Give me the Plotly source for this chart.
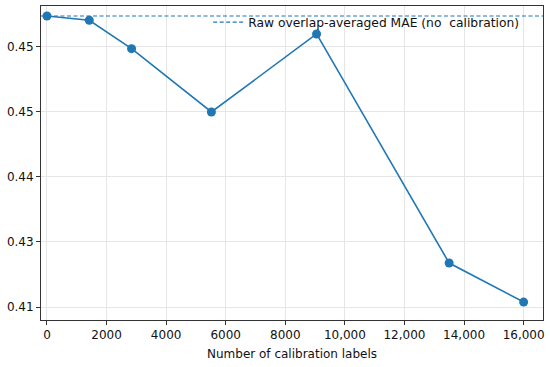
import plotly.graph_objects as go

calib_labels = [0, 1420, 2840, 5520, 9050, 13500, 16000]
mae_values = [0.45738, 0.45705, 0.45487, 0.45000, 0.45600, 0.43838, 0.43538]
raw_mae = 0.45738
y_tick_vals = [0.455, 0.450, 0.445, 0.440, 0.435]
y_tick_text = ["0.45", "0.45", "0.44", "0.43", "0.41"]
x_tick_vals = [0, 2000, 4000, 6000, 8000, 10000, 12000, 14000, 16000]
x_tick_text = ["0", "2000", "4000", "6000", "8000", "10,000", "12,000", "14,000", "16,000"]

blue = "#1f77b4"
fig = go.Figure()
fig.add_trace(go.Scatter(
    x=calib_labels, y=mae_values, mode="lines+markers",
    line=dict(color=blue, width=1.6),
    marker=dict(color=blue, size=9),
    showlegend=False,
))
fig.add_trace(go.Scatter(
    x=[None], y=[None], mode="lines",
    line=dict(color=blue, width=1.2, dash="4px,2.5px"),
    name="Raw overlap-averaged MAE (no\u00a0 calibration)",
))
fig.add_hline(y=raw_mae, line=dict(color=blue, width=1.2, dash="4px,2.5px"))

axis_common = dict(
    showline=True, linecolor="#333333", linewidth=1, mirror=True,
    showgrid=True, gridcolor="#e6e6e6", gridwidth=1,
    ticks="outside", ticklen=4, tickcolor="#333333",
    zeroline=False,
    tickfont=dict(family="DejaVu Sans", size=12, color="#111111"),
)
fig.update_xaxes(
    range=[-200, 16650], tickvals=x_tick_vals, ticktext=x_tick_text,
    title=dict(text="Number of calibration labels", font=dict(family="DejaVu Sans", size=12, color="#111111"), standoff=8),
    **axis_common,
)
fig.update_yaxes(
    range=[0.4340, 0.45815], tickvals=y_tick_vals, ticktext=y_tick_text,
    **axis_common,
)
fig.update_layout(
    width=550, height=367,
    margin=dict(l=41, r=5, t=6, b=47),
    paper_bgcolor="white", plot_bgcolor="white",
    font=dict(family="DejaVu Sans", size=12, color="#111111"),
    legend=dict(x=0.333, y=0.995, xanchor="left", yanchor="top",
                bgcolor="rgba(255,255,255,0)", font=dict(size=12.3)),
)
fig.write_html("out.html", config={"displayModeBar": False},
               post_script="document.body.style.margin='0';document.body.style.overflow='hidden';")
